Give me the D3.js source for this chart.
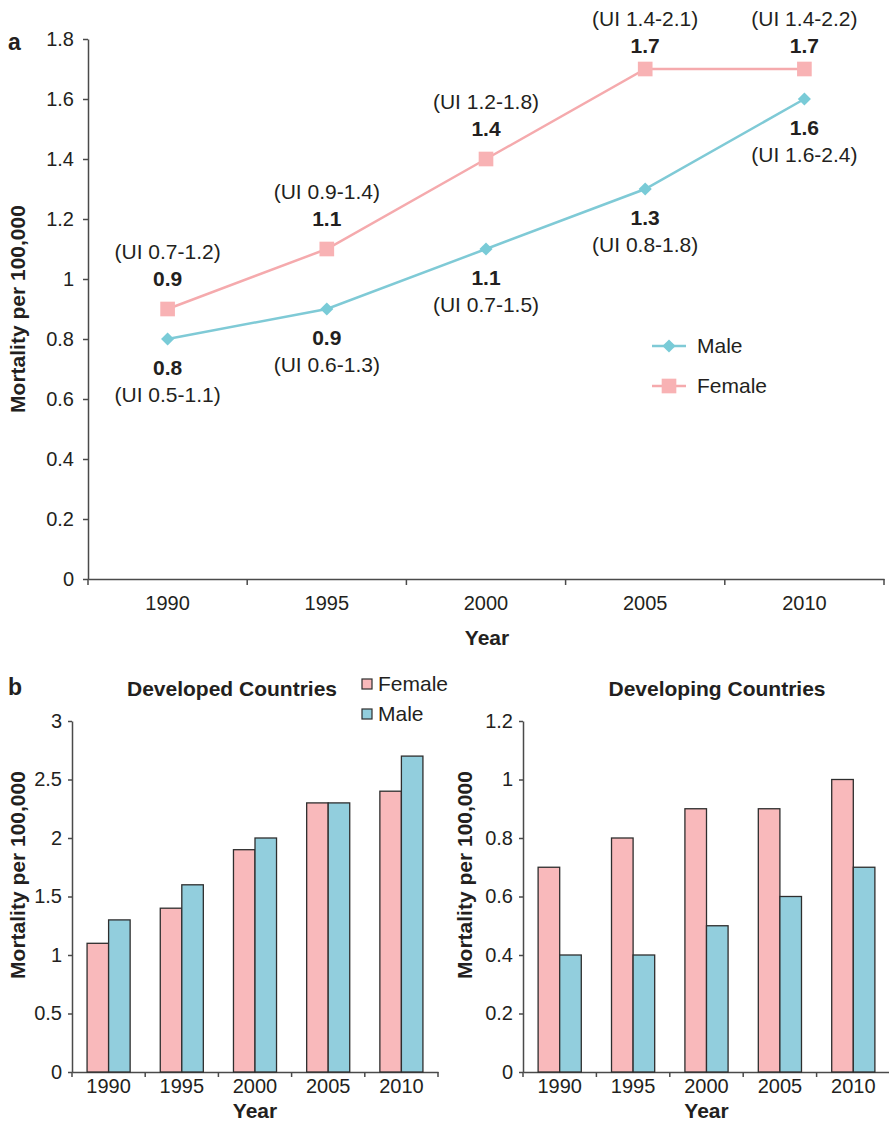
<!DOCTYPE html>
<html>
<head>
<meta charset="utf-8">
<script src="https://cdn.jsdelivr.net/npm/d3@7"></script>
<style>
  html, body { margin: 0; padding: 0; background: #fff; }
  svg text { font-family: "Liberation Sans", Arial, Helvetica, sans-serif; fill: #231f20; }
</style>
</head>
<body>
<svg id="chart" width="889" height="1124"></svg>
<script>
// ---------- data ----------
const years = ["1990", "1995", "2000", "2005", "2010"];
const maleRate = [0.8, 0.9, 1.1, 1.3, 1.6];
const femaleRate = [0.9, 1.1, 1.4, 1.7, 1.7];
const maleUI = ["(UI 0.5-1.1)", "(UI 0.6-1.3)", "(UI 0.7-1.5)", "(UI 0.8-1.8)", "(UI 1.6-2.4)"];
const femaleUI = ["(UI 0.7-1.2)", "(UI 0.9-1.4)", "(UI 1.2-1.8)", "(UI 1.4-2.1)", "(UI 1.4-2.2)"];
const topYTicks = [0, 0.2, 0.4, 0.6, 0.8, 1, 1.2, 1.4, 1.6, 1.8];

const developedFemale = [1.1, 1.4, 1.9, 2.3, 2.4];
const developedMale = [1.3, 1.6, 2.0, 2.3, 2.7];
const developedTicks = [0, 0.5, 1, 1.5, 2, 2.5, 3];

const developingFemale = [0.7, 0.8, 0.9, 0.9, 1.0];
const developingMale = [0.4, 0.4, 0.5, 0.6, 0.7];
const developingTicks = [0, 0.2, 0.4, 0.6, 0.8, 1, 1.2];

const genders = ["Female", "Male"];

// ---------- styles ----------
const C = {
  maleLine: "#7fcad6", maleMark: "#79cbd7",
  femaleLine: "#f5aaad", femaleMark: "#f8b2b4",
  barF: "#f9b9bb", barM: "#92cedd",
  axis: "#4a4a4a", stroke: "#2e2e2e"
};
const FS = "21px", TFS = "20px";
const svg = d3.select("#chart");
const fmtTick = d => d3.format("")(+d.toFixed(2));

// ---------- panel a ----------
const A = { left: 88, right: 884, top: 39, bottom: 579 };
const xA = d3.scaleBand().domain(years).range([A.left, A.right]).padding(0);
const yA = d3.scaleLinear().domain([0, 1.8]).range([A.bottom, A.top]);
const cx = d => xA(d) + xA.bandwidth() / 2;

const gA = svg.append("g");
const yAxisA = gA.append("g").attr("transform", `translate(${A.left},0)`)
  .call(d3.axisLeft(yA).tickValues(topYTicks).tickFormat(fmtTick).tickSize(5).tickPadding(9).tickSizeOuter(0));
yAxisA.selectAll("text").style("font-size", TFS);
const xAxisA = gA.append("g").attr("transform", `translate(0,${A.bottom})`)
  .call(d3.axisBottom(xA).tickSize(0).tickPadding(17).tickSizeOuter(0));
xAxisA.selectAll("text").style("font-size", TFS);
const boundsA = years.map(d => xA(d)).concat([A.right]);
gA.append("g").selectAll("line").data(boundsA).join("line")
  .attr("x1", d => d).attr("x2", d => d)
  .attr("y1", A.bottom).attr("y2", A.bottom + 6)
  .attr("stroke", C.axis).attr("stroke-width", 1.5);
[yAxisA, xAxisA].forEach(g => {
  g.select(".domain").attr("stroke", C.axis).attr("stroke-width", 1.5);
  g.selectAll(".tick line").attr("stroke", C.axis).attr("stroke-width", 1.5);
});

gA.append("text").attr("transform", `translate(25,${(A.top + A.bottom) / 2}) rotate(-90)`)
  .attr("text-anchor", "middle").style("font-size", FS).style("font-weight", "bold")
  .text("Mortality per 100,000");
gA.append("text").attr("x", (A.left + A.right) / 2 + 1).attr("y", 645)
  .attr("text-anchor", "middle").style("font-size", FS).style("font-weight", "bold").text("Year");
svg.append("text").attr("x", 8).attr("y", 50).style("font-size", "23px").style("font-weight", "bold").text("a");

const line = vals => d3.line().x((d, i) => cx(years[i])).y(d => yA(d))(vals);
gA.append("path").attr("d", line(maleRate)).attr("fill", "none")
  .attr("stroke", C.maleLine).attr("stroke-width", 2.5);
gA.append("path").attr("d", line(femaleRate)).attr("fill", "none")
  .attr("stroke", C.femaleLine).attr("stroke-width", 2.5);

const diamond = d3.symbol().type(d3.symbolDiamond2).size(110);
const square = d3.symbol().type(d3.symbolSquare).size(215);

gA.append("g").selectAll("path").data(maleRate).join("path")
  .attr("d", diamond).attr("fill", C.maleMark)
  .attr("transform", (d, i) => `translate(${cx(years[i])},${yA(d)})`);
gA.append("g").selectAll("path").data(femaleRate).join("path")
  .attr("d", square).attr("fill", C.femaleMark)
  .attr("transform", (d, i) => `translate(${cx(years[i])},${yA(d)})`);

const fmt1 = d3.format(".1f");
maleRate.forEach((v, i) => {
  const x = cx(years[i]), y = yA(v);
  gA.append("text").attr("x", x).attr("y", y + 36).attr("text-anchor", "middle")
    .style("font-size", FS).style("font-weight", "bold").text(fmt1(v));
  gA.append("text").attr("x", x).attr("y", y + 63).attr("text-anchor", "middle")
    .style("font-size", FS).text(maleUI[i]);
});
femaleRate.forEach((v, i) => {
  const x = cx(years[i]);
  const y = yA(v);
  const shift = Math.max(0, 26 - (y - 50));
  gA.append("text").attr("x", x).attr("y", y - 23 + shift).attr("text-anchor", "middle")
    .style("font-size", FS).style("font-weight", "bold").text(fmt1(v));
  gA.append("text").attr("x", x).attr("y", y - 50 + shift).attr("text-anchor", "middle")
    .style("font-size", FS).text(femaleUI[i]);
});

const legA = gA.append("g");
[["Male", C.maleLine, C.maleMark, diamond, 346], ["Female", C.femaleLine, C.femaleMark, square, 386]]
  .forEach(([name, lc, mc, sym, y]) => {
    legA.append("line").attr("x1", 652).attr("x2", 686).attr("y1", y).attr("y2", y)
      .attr("stroke", lc).attr("stroke-width", 2.5);
    legA.append("path").attr("d", sym).attr("fill", mc).attr("transform", `translate(669,${y})`);
    legA.append("text").attr("x", 697).attr("y", y + 7).style("font-size", FS).text(name);
  });

// ---------- panel b ----------
svg.append("text").attr("x", 8).attr("y", 695).style("font-size", "23px").style("font-weight", "bold").text("b");

function barPanel(opt) {
  const g = svg.append("g");
  const x0 = d3.scaleBand().domain(years).range([opt.left, opt.right]).padding(0);
  const x1 = d3.scaleBand().domain(genders).range([0, x0.bandwidth()]).paddingInner(0).paddingOuter(0.7);
  const y = d3.scaleLinear().domain([0, opt.max]).range([1072, 721]);
  const yAx = g.append("g").attr("transform", `translate(${opt.left},0)`)
    .call(d3.axisLeft(y).tickValues(opt.ticks).tickFormat(fmtTick).tickSize(4).tickPadding(6).tickSizeOuter(0));
  yAx.selectAll("text").style("font-size", TFS);
  const xAx = g.append("g").attr("transform", "translate(0,1072)")
    .call(d3.axisBottom(x0).tickSize(0).tickPadding(7).tickSizeOuter(0));
  xAx.selectAll("text").style("font-size", TFS);
  const bounds = years.map(d => x0(d)).concat([opt.right]);
  g.append("g").selectAll("line").data(bounds).join("line")
    .attr("x1", d => d).attr("x2", d => d).attr("y1", 1072).attr("y2", 1077)
    .attr("stroke", C.axis).attr("stroke-width", 1.5);
  [yAx, xAx].forEach(a => {
    a.select(".domain").attr("stroke", C.axis).attr("stroke-width", 1.5);
    a.selectAll(".tick line").attr("stroke", C.axis).attr("stroke-width", 1.5);
  });
  const rows = years.map((yr, i) => ({ yr, Female: opt.female[i], Male: opt.male[i] }));
  g.append("g").selectAll("g").data(rows).join("g")
    .attr("transform", d => `translate(${x0(d.yr)},0)`)
    .selectAll("rect").data(d => genders.map(k => ({ k, v: d[k] }))).join("rect")
    .attr("x", d => x1(d.k)).attr("width", x1.bandwidth())
    .attr("y", d => y(d.v)).attr("height", d => 1072 - y(d.v))
    .attr("fill", d => d.k === "Female" ? C.barF : C.barM)
    .attr("stroke", C.stroke).attr("stroke-width", 1.3);
  g.append("text").attr("x", opt.titleX).attr("y", 696).attr("text-anchor", "middle")
    .style("font-size", FS).style("font-weight", "bold").text(opt.title);
  g.append("text").attr("x", (opt.left + opt.right) / 2).attr("y", 1118).attr("text-anchor", "middle")
    .style("font-size", FS).style("font-weight", "bold").text("Year");
  g.append("text").attr("transform", `translate(${opt.ytX},${opt.ytY}) rotate(-90)`)
    .attr("text-anchor", "middle").style("font-size", FS).style("font-weight", "bold")
    .text("Mortality per 100,000");
  return g;
}

barPanel({ left: 72, right: 438, max: 3, ticks: developedTicks, female: developedFemale, male: developedMale,
  title: "Developed Countries", titleX: 232, ytX: 25, ytY: 875 });
barPanel({ left: 523, right: 890, max: 1.2, ticks: developingTicks, female: developingFemale, male: developingMale,
  title: "Developing Countries", titleX: 717, ytX: 472, ytY: 875 });

const legB = svg.append("g");
genders.forEach((k, i) => {
  const yy = 684 + i * 30;
  legB.append("rect").attr("x", 362).attr("y", yy - 5).attr("width", 10).attr("height", 10)
    .attr("fill", k === "Female" ? C.barF : C.barM).attr("stroke", C.stroke).attr("stroke-width", 1.2);
  legB.append("text").attr("x", 378).attr("y", yy + 7).style("font-size", FS).text(k);
});
</script>
</body>
</html>
